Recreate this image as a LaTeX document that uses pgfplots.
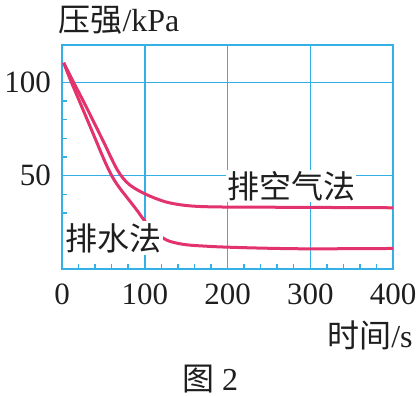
\documentclass[border=0pt]{standalone}
\usepackage{fontspec}
\usepackage{pgfplots}
\pgfplotsset{compat=1.18}
\setmainfont{Liberation Serif}
\newfontfamily\cjk{Noto Sans CJK SC}
\definecolor{gridc}{HTML}{35B0E4}
\definecolor{curvec}{HTML}{E2336D}
\definecolor{txt}{HTML}{1E1E1E}
\begin{document}
\begin{tikzpicture}
\begin{axis}[
  name=ax,
  scale only axis,
  width=165.5pt, height=112pt,
  xmin=0, xmax=400, ymin=0, ymax=120,
  xtick={0,100,200,300,400},
  ytick={0,50,100},
  yticklabels={,50,100},
  minor xtick={20,40,60,80,120,140,160,180,220,240,260,280,320,340,360,380},
  minor ytick={10,20,30,40,60,70,80,90},
  xtick pos=bottom, ytick pos=left,
  tick align=inside,
  major tick length=0pt,
  minor tick length=2.5pt,
  grid=major,
  major grid style={gridc, line width=0.75pt},
  minor tick style={gridc, line width=0.75pt},
  axis line style={gridc, line width=0.75pt},
  every tick label/.append style={font=\fontsize{15.5}{16}\selectfont, text=txt},
  /pgf/number format/assume math mode=true,
  xticklabel style={yshift=-4pt},
  yticklabel style={xshift=-2pt},
  clip=false,
]
\addplot[curvec, line width=1.5pt, smooth, tension=0.6] coordinates {
 (2,110.5) (10,101.5) (20,91) (30,80.5) (40,70) (48,61.5) (55,54.5) (62,48.5) (70,43.2) (80,37.5) (90,31.8) (97,27.5)
 (105,23) (113,19.5) (122,16.6) (132,14.6) (150,13) (175,12.2) (200,11.7) (250,11.1) (300,10.8) (350,10.9) (400,11)
};
\node[fill=white, inner sep=1pt, text=txt, font=\fontsize{16}{16}\selectfont\cjk] at (axis cs:62,16.5) {排水法};
\node[fill=white, inner sep=0.5pt, text=txt, font=\fontsize{16}{16}\selectfont\cjk] at (axis cs:277,44.5) {排空气法};
\addplot[curvec, line width=1.5pt, smooth, tension=0.6] coordinates {
 (2,110.5) (14,100) (28,88) (42,75.5) (52,66.5) (60,59) (67,53) (74,48.5) (82,45) (91,42.4) (100,40.3)
 (112,38) (125,36) (140,34.6) (158,33.7) (180,33.3) (200,33.2) (300,33) (400,32.8)
};
\end{axis}
\node[text=txt, font=\fontsize{16}{16}\selectfont] at ([shift={(28.5pt,12.5pt)}]ax.north west) {{\cjk 压强}/kPa};
\node[text=txt, font=\fontsize{16}{16}\selectfont] at ([shift={(-11.5pt,-33pt)}]ax.south east) {{\cjk 时间}/s};
\node[text=txt, font=\fontsize{16}{16}\selectfont] at ([shift={(74pt,-55pt)}]ax.south west) {{\cjk 图} 2};
\pgfresetboundingbox
\path[use as bounding box] ([shift={(-31pt,-63pt)}]ax.south west) rectangle ([shift={(13.5pt,22.5pt)}]ax.north east);
\end{tikzpicture}
\end{document}
